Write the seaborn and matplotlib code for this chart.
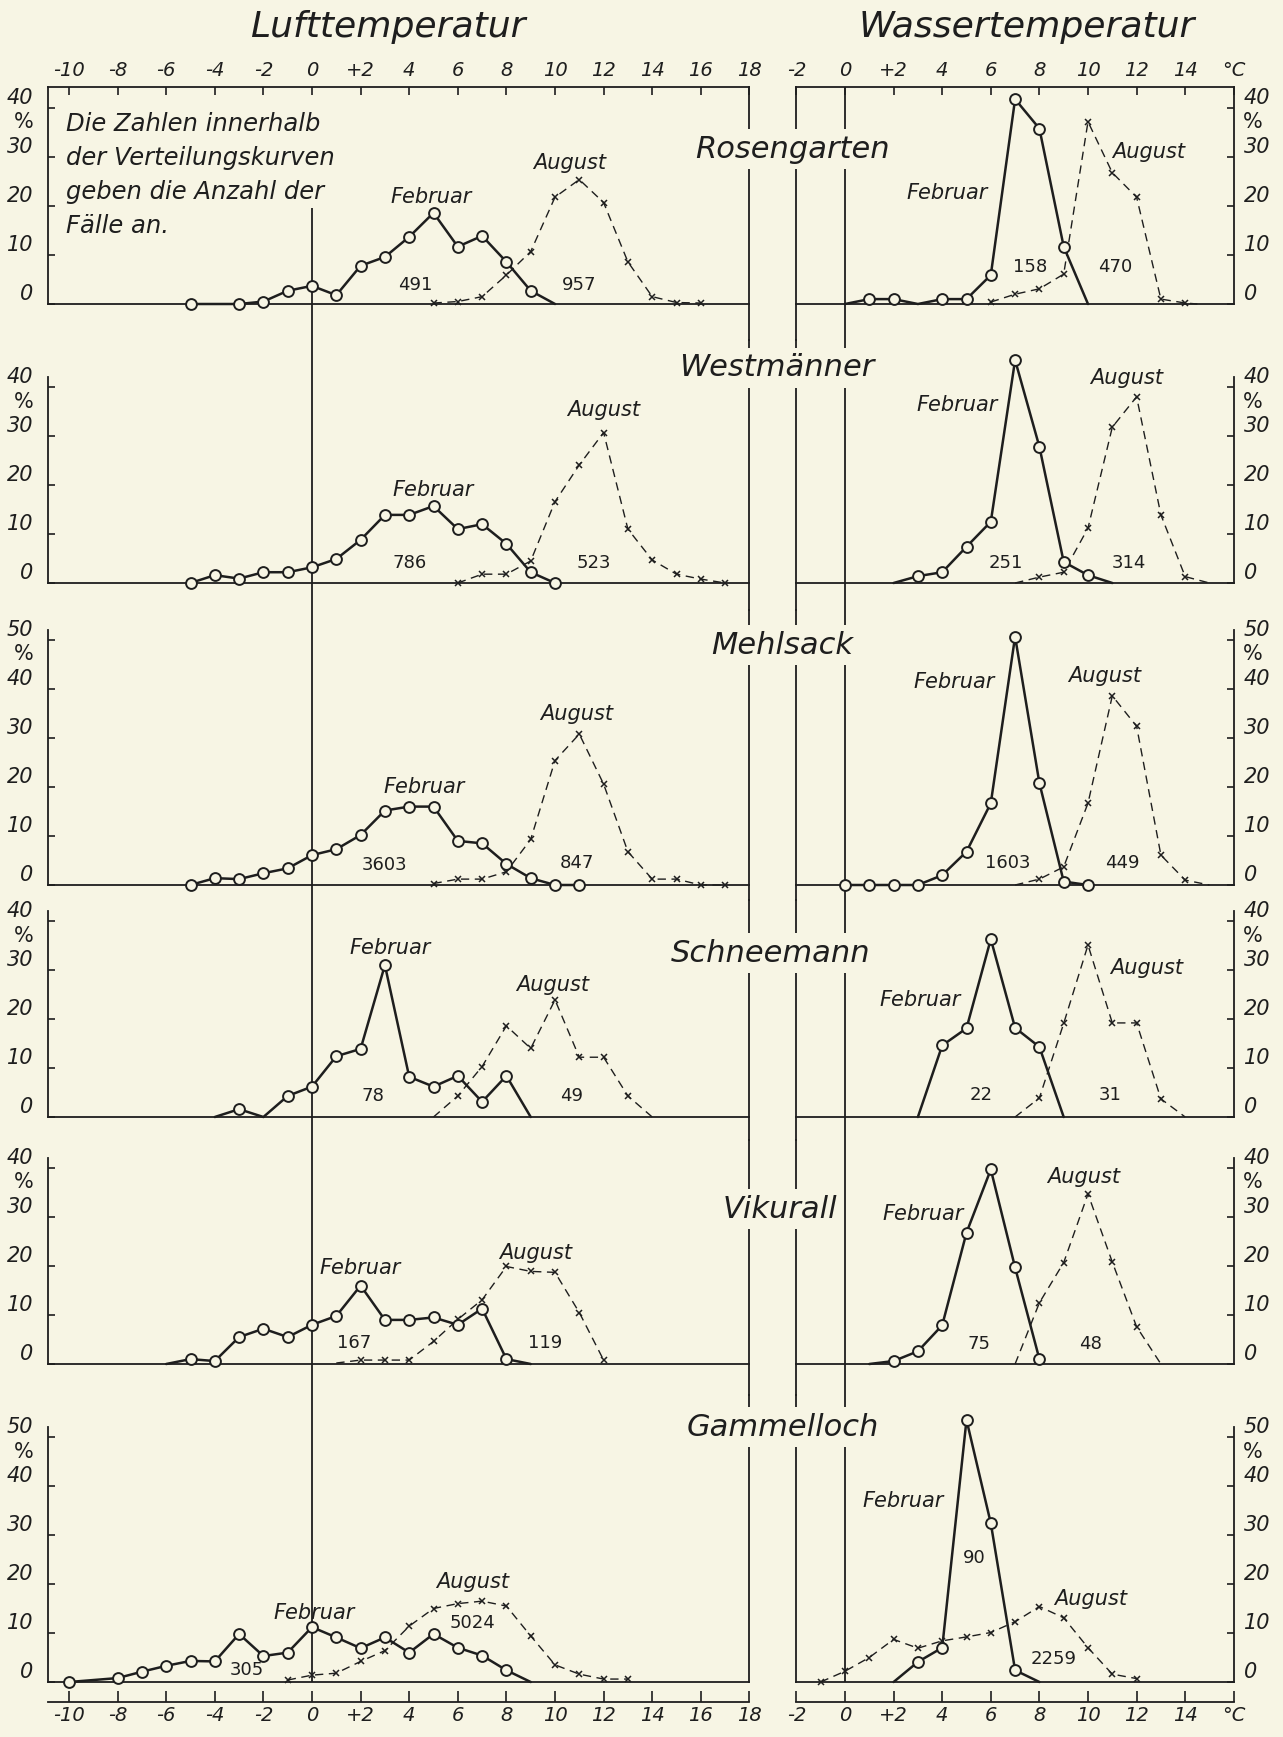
import matplotlib
matplotlib.use("Agg")
import matplotlib.pyplot as plt
import seaborn as sns

# ---- data (percent of cases per 1 deg C class) ----
ROS_L_FEB_X = list(range(-5, 11))
ROS_L_FEB_Y = [0, 0, 0, 0.5, 2.7, 3.7, 1.8, 7.8, 9.6, 13.7, 18.6, 11.7, 13.9, 8.6, 2.7, 0]
ROS_L_FEB_OPEN = [-4, 10]
ROS_L_AUG_X = list(range(5, 17))
ROS_L_AUG_Y = [0.2, 0.5, 1.5, 5.9, 10.7, 21.8, 25.4, 20.7, 8.6, 1.5, 0.3, 0.2]
ROS_L_AUG_OPEN = []
ROS_W_FEB_X = list(range(0, 11))
ROS_W_FEB_Y = [0, 1.0, 1.0, 0, 1.0, 1.0, 5.9, 41.8, 35.8, 11.7, 0]
ROS_W_FEB_OPEN = [0, 3, 10]
ROS_W_AUG_X = [6, 7, 8, 9, 10, 11, 12, 13, 14, 14.5]
ROS_W_AUG_Y = [0.4, 2.0, 3.1, 6.1, 37.2, 26.8, 21.8, 1.0, 0.2, 0]
ROS_W_AUG_OPEN = [14.5]

WES_L_FEB_X = list(range(-5, 11))
WES_L_FEB_Y = [0, 1.6, 0.9, 2.2, 2.2, 3.2, 4.9, 8.8, 13.9, 13.9, 15.7, 11.0, 12.0, 8.0, 2.2, 0]
WES_L_FEB_OPEN = []
WES_L_AUG_X = list(range(6, 18))
WES_L_AUG_Y = [0, 1.8, 1.8, 4.5, 16.6, 24.1, 30.7, 11.0, 4.7, 1.8, 0.8, 0]
WES_L_AUG_OPEN = []
WES_W_FEB_X = list(range(2, 12))
WES_W_FEB_Y = [0, 1.4, 2.2, 7.4, 12.5, 45.5, 27.8, 4.3, 1.6, 0]
WES_W_FEB_OPEN = [2, 11]
WES_W_AUG_X = list(range(7, 16))
WES_W_AUG_Y = [0, 1.2, 2.2, 11.2, 31.8, 38.0, 13.9, 1.3, 0]
WES_W_AUG_OPEN = [7, 15]

MEH_L_FEB_X = list(range(-5, 12))
MEH_L_FEB_Y = [0, 1.4, 1.2, 2.4, 3.4, 6.1, 7.3, 10.2, 15.2, 16.0, 16.0, 9.0, 8.5, 4.3, 1.4, 0, 0]
MEH_L_FEB_OPEN = []
MEH_L_AUG_X = list(range(5, 18))
MEH_L_AUG_Y = [0.3, 1.2, 1.2, 2.7, 9.3, 25.4, 30.8, 20.6, 6.8, 1.2, 1.2, 0, 0]
MEH_L_AUG_OPEN = []
MEH_W_FEB_X = list(range(0, 11))
MEH_W_FEB_Y = [0, 0, 0, 0, 2.0, 6.8, 16.7, 50.7, 20.8, 0.7, 0]
MEH_W_FEB_OPEN = []
MEH_W_AUG_X = list(range(7, 16))
MEH_W_AUG_Y = [0, 1.2, 3.7, 16.7, 38.6, 32.4, 6.1, 1.0, 0]
MEH_W_AUG_OPEN = [7, 15]

SCH_L_FEB_X = list(range(-4, 10))
SCH_L_FEB_Y = [0, 1.6, 0, 4.3, 6.2, 12.4, 13.9, 31.0, 8.2, 6.2, 8.4, 3.1, 8.4, 0]
SCH_L_FEB_OPEN = [-4, -2, 9]
SCH_L_AUG_X = list(range(5, 15))
SCH_L_AUG_Y = [0, 4.3, 10.3, 18.6, 14.0, 23.9, 12.2, 12.2, 4.3, 0]
SCH_L_AUG_OPEN = [5, 14]
SCH_W_FEB_X = list(range(3, 10))
SCH_W_FEB_Y = [0, 14.6, 18.1, 36.3, 18.2, 14.3, 0]
SCH_W_FEB_OPEN = [3, 9]
SCH_W_AUG_X = list(range(7, 15))
SCH_W_AUG_Y = [0, 3.9, 19.1, 35.1, 19.2, 19.2, 3.7, 0]
SCH_W_AUG_OPEN = [7, 14]

VIK_L_FEB_X = list(range(-6, 10))
VIK_L_FEB_Y = [0, 1.0, 0.6, 5.5, 7.2, 5.5, 8.0, 9.8, 16.0, 9.0, 9.0, 9.5, 8.0, 11.3, 1.0, 0]
VIK_L_FEB_OPEN = [-6, 9]
VIK_L_AUG_X = list(range(1, 13))
VIK_L_AUG_Y = [0.2, 0.8, 0.8, 0.8, 4.6, 9.1, 13.1, 19.9, 18.9, 18.7, 10.5, 0.8]
VIK_L_AUG_OPEN = [1]
VIK_W_FEB_X = list(range(1, 9))
VIK_W_FEB_Y = [0, 0.6, 2.6, 7.9, 26.8, 39.7, 19.7, 1.0]
VIK_W_FEB_OPEN = [1]
VIK_W_AUG_X = list(range(7, 14))
VIK_W_AUG_Y = [0, 12.5, 20.7, 34.7, 20.8, 7.6, 0]
VIK_W_AUG_OPEN = [7, 13]

GAM_L_FEB_X = [-10] + list(range(-8, 10))
GAM_L_FEB_Y = [0, 0.8, 2.1, 3.3, 4.3, 4.2, 9.8, 5.3, 6.0, 11.2, 9.1, 6.9, 9.1, 6.0, 9.8, 7.0, 5.4, 2.4, 0]
GAM_L_FEB_OPEN = [9]
GAM_L_AUG_X = list(range(-1, 14))
GAM_L_AUG_Y = [0.4, 1.4, 1.8, 4.2, 6.4, 11.4, 15.0, 16.0, 16.5, 15.5, 9.4, 3.5, 1.6, 0.6, 0.6]
GAM_L_AUG_OPEN = []
GAM_W_FEB_X = list(range(2, 9))
GAM_W_FEB_Y = [0, 4.1, 7.0, 53.5, 32.4, 2.4, 0]
GAM_W_FEB_OPEN = [2, 8]
GAM_W_AUG_X = list(range(-1, 13))
GAM_W_AUG_Y = [0, 2.2, 5.0, 8.7, 6.9, 8.4, 9.2, 10.1, 12.3, 15.4, 13.1, 7.0, 1.6, 0.7]
GAM_W_AUG_OPEN = []

STATIONS = ["Rosengarten", "Westmänner", "Mehlsack", "Schneemann", "Vikurall", "Gammelloch"]
YMAX = [40, 40, 50, 40, 40, 50]
CASES_L = [("491", "957"), ("786", "523"), ("3603", "847"), ("78", "49"), ("167", "119"), ("305", "5024")]
CASES_W = [("158", "470"), ("251", "314"), ("1603", "449"), ("22", "31"), ("75", "48"), ("90", "2259")]

L_TICKS = list(range(-10, 19, 2))
L_TICKLABELS = ["-10", "-8", "-6", "-4", "-2", "0", "+2", "4", "6", "8", "10", "12", "14", "16", "18"]
W_TICKS = list(range(-2, 17, 2))
W_TICKLABELS = ["-2", "0", "+2", "4", "6", "8", "10", "12", "14", "°C"]

AIR = [
    (ROS_L_FEB_X, ROS_L_FEB_Y, ROS_L_FEB_OPEN, ROS_L_AUG_X, ROS_L_AUG_Y, ROS_L_AUG_OPEN),
    (WES_L_FEB_X, WES_L_FEB_Y, WES_L_FEB_OPEN, WES_L_AUG_X, WES_L_AUG_Y, WES_L_AUG_OPEN),
    (MEH_L_FEB_X, MEH_L_FEB_Y, MEH_L_FEB_OPEN, MEH_L_AUG_X, MEH_L_AUG_Y, MEH_L_AUG_OPEN),
    (SCH_L_FEB_X, SCH_L_FEB_Y, SCH_L_FEB_OPEN, SCH_L_AUG_X, SCH_L_AUG_Y, SCH_L_AUG_OPEN),
    (VIK_L_FEB_X, VIK_L_FEB_Y, VIK_L_FEB_OPEN, VIK_L_AUG_X, VIK_L_AUG_Y, VIK_L_AUG_OPEN),
    (GAM_L_FEB_X, GAM_L_FEB_Y, GAM_L_FEB_OPEN, GAM_L_AUG_X, GAM_L_AUG_Y, GAM_L_AUG_OPEN),
]
WATER = [
    (ROS_W_FEB_X, ROS_W_FEB_Y, ROS_W_FEB_OPEN, ROS_W_AUG_X, ROS_W_AUG_Y, ROS_W_AUG_OPEN),
    (WES_W_FEB_X, WES_W_FEB_Y, WES_W_FEB_OPEN, WES_W_AUG_X, WES_W_AUG_Y, WES_W_AUG_OPEN),
    (MEH_W_FEB_X, MEH_W_FEB_Y, MEH_W_FEB_OPEN, MEH_W_AUG_X, MEH_W_AUG_Y, MEH_W_AUG_OPEN),
    (SCH_W_FEB_X, SCH_W_FEB_Y, SCH_W_FEB_OPEN, SCH_W_AUG_X, SCH_W_AUG_Y, SCH_W_AUG_OPEN),
    (VIK_W_FEB_X, VIK_W_FEB_Y, VIK_W_FEB_OPEN, VIK_W_AUG_X, VIK_W_AUG_Y, VIK_W_AUG_OPEN),
    (GAM_W_FEB_X, GAM_W_FEB_Y, GAM_W_FEB_OPEN, GAM_W_AUG_X, GAM_W_AUG_Y, GAM_W_AUG_OPEN),
]

# ---- layout (pixels of the 1283x1737 sheet) ----
W, H = 1283, 1737
BG = "#f7f5e4"
INK = "#1e1e1e"
PXD = 24.3            # px per degree
SCALE = 4.9           # px per percent
BASE = [304, 583, 885, 1117, 1364, 1682]
TOPS = [87, 340, 610, 900, 1140, 1395]
BOTS = [340, 610, 900, 1140, 1395, 1682]
L_ZERO, W_ZERO = 312, 845
L_XLIM, W_XLIM = (-10.85, 18), (-2, 16)

# label spots in data units: (feb x, feb y, aug x, aug y, n1 x, n1 y, n2 x, n2 y)
L_LAB = [(4.9, 21.9, 10.6, 28.7, 4.25, 3.9, 11.0, 3.9),
         (5.0, 19.0, 12.0, 35.4, 4.0, 4.1, 11.6, 4.1),
         (4.6, 20.1, 10.9, 34.9, 3.0, 4.1, 10.9, 4.4),
         (3.2, 34.4, 9.9, 26.9, 2.5, 4.3, 10.7, 4.3),
         (2.0, 19.5, 9.2, 22.6, 1.75, 4.2, 9.6, 4.2),
         (0.1, 14.0, 6.6, 20.5, -2.7, 2.4, 6.6, 12.1)]
W_LAB = [(4.2, 22.6, 12.5, 31.1, 7.6, 7.6, 11.1, 7.6),
         (4.6, 36.3, 11.6, 41.8, 6.6, 4.1, 11.7, 4.1),
         (4.5, 41.5, 10.7, 42.7, 6.7, 4.4, 11.4, 4.4),
         (3.1, 23.9, 12.4, 30.5, 5.6, 4.5, 10.9, 4.5),
         (3.2, 30.7, 9.8, 38.2, 5.5, 4.1, 10.1, 4.1),
         (2.4, 37.0, 10.1, 16.9, 5.3, 25.4, 8.6, 4.6)]
NAME_POS = [(792, 149), (777, 368), (782, 645), (771, 953), (780, 1209), (783, 1427)]

sns.set_theme(style="white")
plt.rcParams["font.family"] = ["DejaVu Sans"]
plt.rcParams["axes.linewidth"] = 1.3

fig = plt.figure(figsize=(W / 100, H / 100), dpi=100, facecolor=BG)


def column_axes(xlim, zero, top, bot):
    x0 = zero + xlim[0] * PXD
    x1 = zero + xlim[1] * PXD
    ax = fig.add_axes([x0 / W, 1 - bot / H, (x1 - x0) / W, (bot - top) / H])
    ax.set_facecolor("none")
    ax.set_xlim(*xlim)
    return ax


def draw_series(ax, x, y, open_pts, feb):
    marked = [k for k, v in enumerate(x) if v not in open_pts]
    if feb:
        sns.lineplot(x=x, y=y, ax=ax, color=INK, lw=1.8, marker="o", ms=7.8,
                     mfc=BG, mec=INK, mew=1.4, markevery=marked,
                     errorbar=None, clip_on=False, zorder=5)
    else:
        sns.lineplot(x=x, y=y, ax=ax, color=INK, lw=1.0, linestyle=(0, (6, 4)),
                     marker="x", ms=5, mec=INK, mew=1.1, markevery=marked,
                     errorbar=None, clip_on=False, zorder=4)


for col in ("L", "W"):
    for i in range(6):
        if col == "L":
            ax = column_axes(L_XLIM, L_ZERO, TOPS[i], BOTS[i])
            fx, fy, fo, ax_, ay, ao = AIR[i]
            lab = L_LAB[i]
            cases = CASES_L[i]
        else:
            ax = column_axes(W_XLIM, W_ZERO, TOPS[i], BOTS[i])
            fx, fy, fo, ax_, ay, ao = WATER[i]
            lab = W_LAB[i]
            cases = CASES_W[i]
        ylo = -(BOTS[i] - BASE[i]) / SCALE
        yhi = (BASE[i] - TOPS[i]) / SCALE
        ax.set_ylim(ylo, yhi)

        draw_series(ax, ax_, ay, ao, feb=False)
        draw_series(ax, fx, fy, fo, feb=True)

        # zero-degree line
        vtop = 19.6 if (col == "L" and i == 0) else yhi
        ax.vlines(0, ylo, vtop, color=INK, lw=1.3, zorder=2)

        # spines
        ax.spines["bottom"].set_position(("data", 0))
        ax.spines["top"].set_visible(i == 0)
        side = "left" if col == "L" else "right"
        other = "right" if col == "L" else "left"
        ax.spines[other].set_visible(True)
        ax.spines[side].set_visible(True)
        if i > 0:
            ax.spines[side].set_bounds(0, YMAX[i] + 2)
        else:
            ax.spines[side].set_bounds(0, yhi)
        for s in ax.spines.values():
            s.set_color(INK)
            s.set_linewidth(1.3)

        # y ticks
        ticks = list(range(0, YMAX[i] + 1, 10))
        if col == "L":
            ax.yaxis.tick_left()
            ax.tick_params(axis="y", direction="in", length=5, width=1.2,
                           pad=11, colors=INK, labelsize=15)
            pct_x, pct_ha = -0.021, "right"
        else:
            ax.yaxis.tick_right()
            ax.tick_params(axis="y", direction="in", length=5, width=1.2,
                           pad=7, colors=INK, labelsize=15)
            pct_x, pct_ha = 1.021, "left"
        ax.set_yticks(ticks, [str(t) for t in ticks], va="bottom", style="oblique")
        ax.text(pct_x, YMAX[i] - 5, "%", transform=ax.get_yaxis_transform(),
                ha=pct_ha, va="bottom", fontsize=15, color=INK)

        # x ticks on top of first panel only
        if i == 0:
            ax.xaxis.tick_top()
            if col == "L":
                ax.set_xticks(L_TICKS, L_TICKLABELS, style="oblique")
            else:
                ax.set_xticks(W_TICKS, W_TICKLABELS, style="oblique")
            ax.tick_params(axis="x", direction="in", length=6, width=1.2,
                           pad=5, colors=INK, labelsize=14)
        else:
            ax.tick_params(axis="x", bottom=False, top=False,
                           labelbottom=False, labeltop=False)
        ax.set_xlabel("")
        ax.set_ylabel("")

        # curve labels
        ax.text(lab[0], lab[1], "Februar", ha="center", va="center",
                fontsize=15, style="oblique", color=INK)
        ax.text(lab[2], lab[3], "August", ha="center", va="center",
                fontsize=15, style="oblique", color=INK)
        ax.text(lab[4], lab[5], cases[0], ha="center", va="center",
                fontsize=13, color=INK)
        ax.text(lab[6], lab[7], cases[1], ha="center", va="center",
                fontsize=13, color=INK)

# bottom scales
for xlim, zero, ticks, labels in ((L_XLIM, L_ZERO, L_TICKS, L_TICKLABELS),
                                  (W_XLIM, W_ZERO, W_TICKS, W_TICKLABELS)):
    bax = column_axes(xlim, zero, 1701, 1702)
    bax.set_ylim(0, 1)
    for s in ("top", "left", "right"):
        bax.spines[s].set_visible(False)
    bax.spines["bottom"].set_color(INK)
    bax.set_yticks([])
    bax.xaxis.tick_bottom()
    bax.set_xticks(ticks, labels, style="oblique")
    bax.tick_params(axis="x", direction="in", length=8, width=1.2,
                    pad=3, colors=INK, labelsize=14)

# titles
fig.text(388 / W, 1 - 27 / H, "Lufttemperatur", ha="center", va="center",
         fontsize=26, style="oblique", color=INK)
fig.text(1027 / W, 1 - 27 / H, "Wassertemperatur", ha="center", va="center",
         fontsize=26, style="oblique", color=INK)

# note
NOTE = ["Die Zahlen innerhalb", "der Verteilungskurven",
        "geben die Anzahl der", "Fälle an."]
for k, line in enumerate(NOTE):
    fig.text(66 / W, 1 - (124 + 34 * k) / H, line, ha="left", va="center",
             fontsize=17.5, style="oblique", color=INK)

# station names
for name, (px, py) in zip(STATIONS, NAME_POS):
    fig.text(px / W, 1 - py / H, name, ha="center", va="center", fontsize=22,
             style="oblique", color=INK, zorder=10,
             bbox=dict(fc=BG, ec="none", pad=4))

fig.savefig("out.png", dpi=100, facecolor=BG)
